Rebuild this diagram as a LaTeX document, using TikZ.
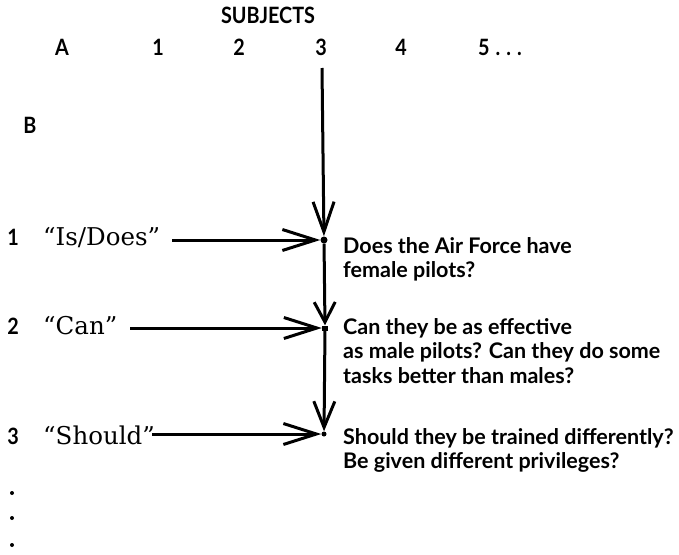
\documentclass[tikz,border=0pt]{standalone}
\usepackage{fontspec}
\setmainfont{Lato}
\newfontfamily\narrowfont[FakeStretch=0.88, UprightFont={Lato Bold}]{Lato}
\newfontfamily\quotefont{DejaVu Serif}
\usetikzlibrary{arrows.meta}
\tikzset{
  x=1pt, y=-1pt,
  lbl/.style={font=\narrowfont\fontsize{22.5}{22.5}\selectfont, inner sep=0pt, anchor=base},
  body/.style={font=\bfseries\fontsize{21.5}{24.5}\selectfont, inner sep=0pt, anchor=north west, align=left},
  qword/.style={font=\quotefont\fontsize{24.5}{24.5}\selectfont, inner sep=0pt, anchor=base west},
  link/.style={line width=3pt, -{Straight Barb[length=#1, width=21pt, line width=3pt]}},
  link/.default=28pt,
  spot/.style={fill, inner sep=0pt, minimum size=5pt},
}
\begin{document}
\begin{tikzpicture}
\useasboundingbox (0,0) rectangle (679,554);

% column heading
\node[lbl] (subj) at (268,23) {SUBJECTS};
\node[lbl] (cA) at (62,55) {A};
\node[lbl] (c1) at (158,55) {1};
\node[lbl] (c2) at (239,55) {2};
\node[lbl] (c3) at (321,55) {3};
\node[lbl] (c4) at (401,55) {4};
\node[lbl, anchor=base west] (c5) at (478,55) {5\hspace{6pt}.\hspace{6pt}.\hspace{6pt}.};

% row heading
\node[lbl] (rB) at (30,133) {B};

% row numbers
\node[lbl] (r1) at (13,245) {1};
\node[lbl] (r2) at (13,334) {2};
\node[lbl] (r3) at (13,444) {3};

% the three question words
\node[qword] (q1) at (43,245) {“Is/Does”};
\node[qword] (q2) at (43,334) {“Can”};
\node[qword] (q3) at (43,444) {“Should”};

% points in column 3
\node[spot, circle, minimum size=7pt] (p1) at (324,240) {};
\node[spot, minimum width=6pt, minimum height=5pt] (p2) at (325,328) {};
\node[spot, circle, minimum size=5pt] (p3) at (324,434) {};

% question texts
\node[body] (t1) at (343,237) {Does the Air Force have\\female pilots?};
\node[body] (t2) at (343,318) {Can they be as effective\\as male pilots? Can they do some\\tasks better than males?};
\node[body] (t3) at (343,428) {Should they be trained differently?\\Be given different privileges?};

% arrows
\coordinate (top) at (322,68);
\draw[link=30pt] (top) -- (p1);
\draw[link=33pt] (172,240) -- (p1);
\draw[link=20pt] (p1) -- (p2);
\draw[link=33pt] (130,328) -- (p2);
\draw[link=26pt] (p2) -- (p3);
\draw[link=33pt] (152,434) -- (p3);

% continuation dots
\node[spot, circle, minimum size=4pt] (d1) at (12,493) {};
\node[spot, circle, minimum size=4pt] (d2) at (12,518) {};
\node[spot, circle, minimum size=4pt] (d3) at (12,545) {};
\end{tikzpicture}
\end{document}
